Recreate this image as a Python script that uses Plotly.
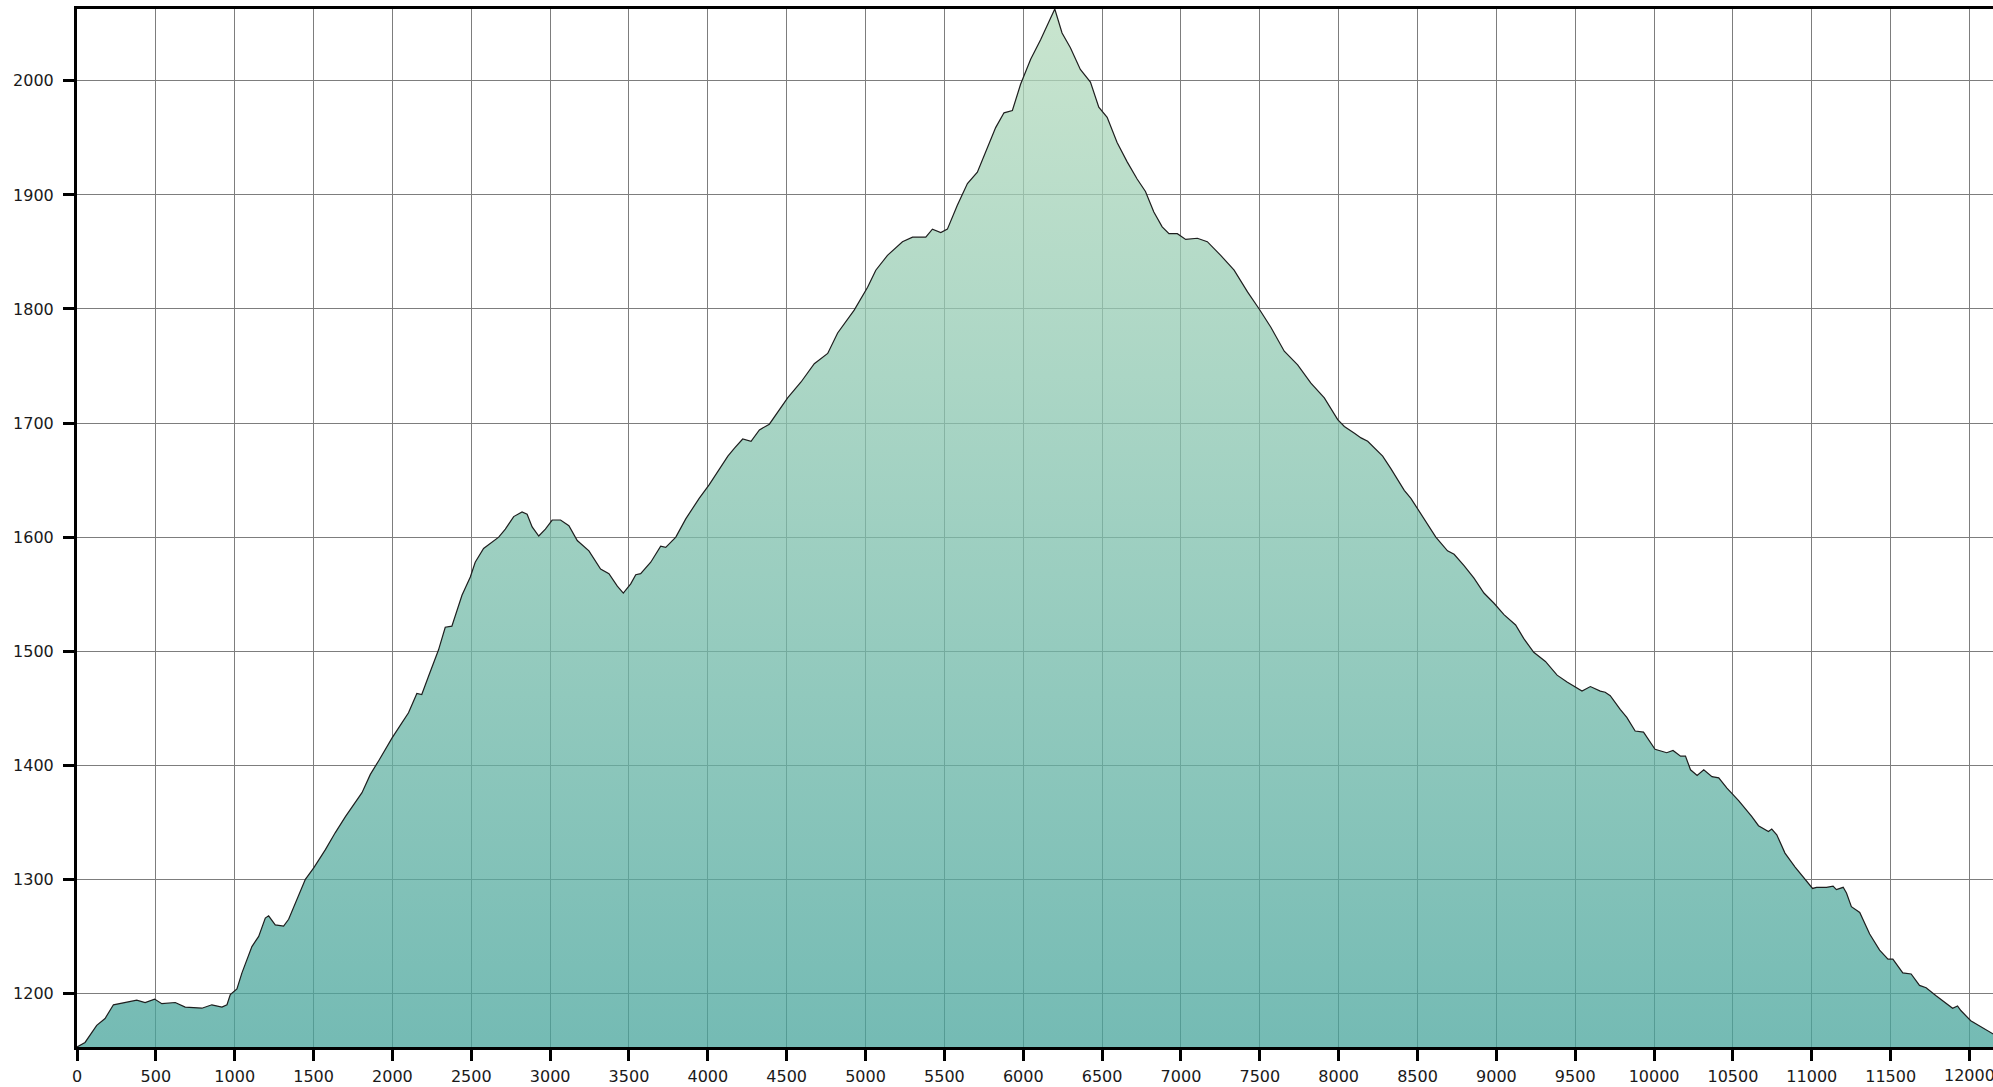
import plotly.graph_objects as go

distance_m = [
    0, 51, 125, 178, 231, 305, 326, 379, 432, 492, 538, 623, 686, 792, 855, 919, 951, 972,
    1014, 1046, 1109, 1152, 1194, 1215, 1257, 1310, 1342, 1405, 1448, 1501, 1575, 1638,
    1702, 1807, 1860, 1913, 1998, 2059, 2102, 2155, 2186, 2229, 2292, 2335, 2377, 2441,
    2494, 2525, 2578, 2674, 2716, 2769, 2822, 2854, 2886, 2928, 2970, 3013, 3066, 3119,
    3172, 3246, 3320, 3373, 3426, 3464, 3511, 3543, 3574, 3638, 3701, 3733, 3797, 3860,
    3945, 4009, 4072, 4127, 4169, 4221, 4274, 4327, 4390, 4454, 4506, 4591, 4675, 4760,
    4823, 4928, 5013, 5065, 5139, 5234, 5298, 5382, 5424, 5477, 5519, 5582, 5646, 5709,
    5772, 5825, 5878, 5931, 5983, 6047, 6110, 6150, 6200, 6246, 6299, 6362, 6426, 6479,
    6532, 6595, 6659, 6722, 6775, 6828, 6881, 6924, 6977, 7030, 7104, 7167, 7252, 7337,
    7422, 7496, 7570, 7655, 7740, 7824, 7909, 7994, 8036, 8100, 8142, 8184, 8226, 8279,
    8331, 8374, 8416, 8458, 8500, 8553, 8616, 8690, 8732, 8795, 8858, 8921, 8985, 9048,
    9122, 9174, 9237, 9311, 9385, 9448, 9511, 9543, 9596, 9659, 9690, 9722, 9785, 9827,
    9880, 9933, 10006, 10080, 10120, 10168, 10199, 10231, 10273, 10315, 10367, 10410,
    10462, 10536, 10620, 10662, 10725, 10746, 10778, 10830, 10893, 10946, 10978, 11005,
    11030, 11093, 11135, 11156, 11199, 11220, 11251, 11304, 11367, 11430, 11483, 11514,
    11577, 11630, 11683, 11725, 11788, 11851, 11893, 11924, 11945, 12008, 12071, 12134, 12180,
]

elevation_m = [
    1153, 1157, 1172, 1178, 1190, 1192, 1193, 1194, 1192, 1195, 1191, 1192, 1188, 1187, 1190, 1188, 1190, 1199,
    1204, 1218, 1241, 1250, 1266, 1268, 1260, 1259, 1265, 1285, 1300, 1310, 1326, 1341,
    1355, 1376, 1392, 1404, 1424, 1437, 1446, 1463, 1462, 1478, 1501, 1521, 1522, 1549,
    1565, 1578, 1590, 1600, 1607, 1618, 1622, 1620, 1609, 1601, 1607, 1615, 1615, 1610,
    1597, 1588, 1572, 1568, 1557, 1551, 1559, 1567, 1568, 1578, 1592, 1591, 1600, 1616,
    1634, 1646, 1659, 1671, 1678, 1686, 1684, 1694, 1699, 1712, 1722, 1736, 1752, 1761,
    1779, 1799, 1819, 1834, 1847, 1859, 1863, 1863, 1870, 1867, 1870, 1891, 1910, 1920,
    1942, 1959, 1972, 1974, 1997, 2019, 2036, 2048, 2063, 2042, 2029, 2010, 1999, 1977,
    1968, 1946, 1929, 1914, 1903, 1885, 1872, 1866, 1866, 1861, 1862, 1859, 1847, 1834,
    1815, 1800, 1784, 1763, 1751, 1735, 1722, 1703, 1697, 1691, 1687, 1684, 1678, 1671,
    1660, 1650, 1641, 1634, 1625, 1613, 1600, 1588, 1585, 1575, 1564, 1551, 1542, 1532,
    1523, 1511, 1499, 1491, 1479, 1473, 1468, 1465, 1469, 1465, 1464, 1461, 1449, 1442,
    1430, 1429, 1414, 1411, 1413, 1408, 1408, 1396, 1391, 1396, 1390, 1389,
    1380, 1369, 1355, 1347, 1342, 1344, 1339, 1323, 1311, 1302, 1296, 1292,
    1293, 1293, 1294, 1291, 1293, 1288, 1276, 1271, 1252, 1238, 1230, 1230,
    1218, 1217, 1207, 1205, 1198, 1191, 1187, 1189, 1185, 1176, 1171, 1166, 1162,
]

x_range = [0, 12149]
y_range = [min(elevation_m), max(elevation_m)]
edge_tick = 12000  # last tick whose label is cut by the right edge

fig = go.Figure()
fig.add_trace(go.Scatter(
    x=distance_m,
    y=elevation_m,
    mode="lines",
    line=dict(color="#1e1e1e", width=1.2),
    fill="tozeroy",
    fillgradient=dict(
        type="vertical",
        start=y_range[0],
        stop=y_range[1],
        colorscale=[[0, "rgba(70,164,155,0.75)"], [1, "rgba(183,220,190,0.75)"]],
    ),
    hoverinfo="x+y",
    showlegend=False,
))

axis_font = dict(family="DejaVu Sans, Verdana, sans-serif", size=16, color="#1a1a1a")

common = dict(
    showgrid=True,
    gridcolor="rgb(125,125,125)",
    gridwidth=1.4,
    zeroline=False,
    showline=True,
    linecolor="black",
    linewidth=3,
    ticks="outside",
    ticklen=11,
    tickwidth=2.5,
    tickcolor="black",
    tickfont=axis_font,
    tickformat="d",
    automargin=False,
)

fig.update_layout(
    width=1993,
    height=1087,
    margin=dict(l=77, r=0, t=9, b=40, autoexpand=False),
    paper_bgcolor="white",
    plot_bgcolor="white",
    showlegend=False,
    xaxis=dict(range=x_range, tick0=0, dtick=500, mirror=True, ticklabelstandoff=2, **common),
    yaxis=dict(range=y_range, tick0=0, dtick=100, mirror=False, ticklabelstandoff=6, **common),
)

# the reference shows the last x tick label partly cut by the right edge
fig.add_annotation(
    x=edge_tick, xref="x",
    y=0, yref="paper",
    text=str(edge_tick),
    showarrow=False,
    xanchor="center", yanchor="top",
    yshift=-17,
    font=axis_font,
)

fig.write_html(
    "out.html",
    config={"displayModeBar": False},
    post_script="document.body.style.margin='0';document.body.style.overflow='hidden';",
)
